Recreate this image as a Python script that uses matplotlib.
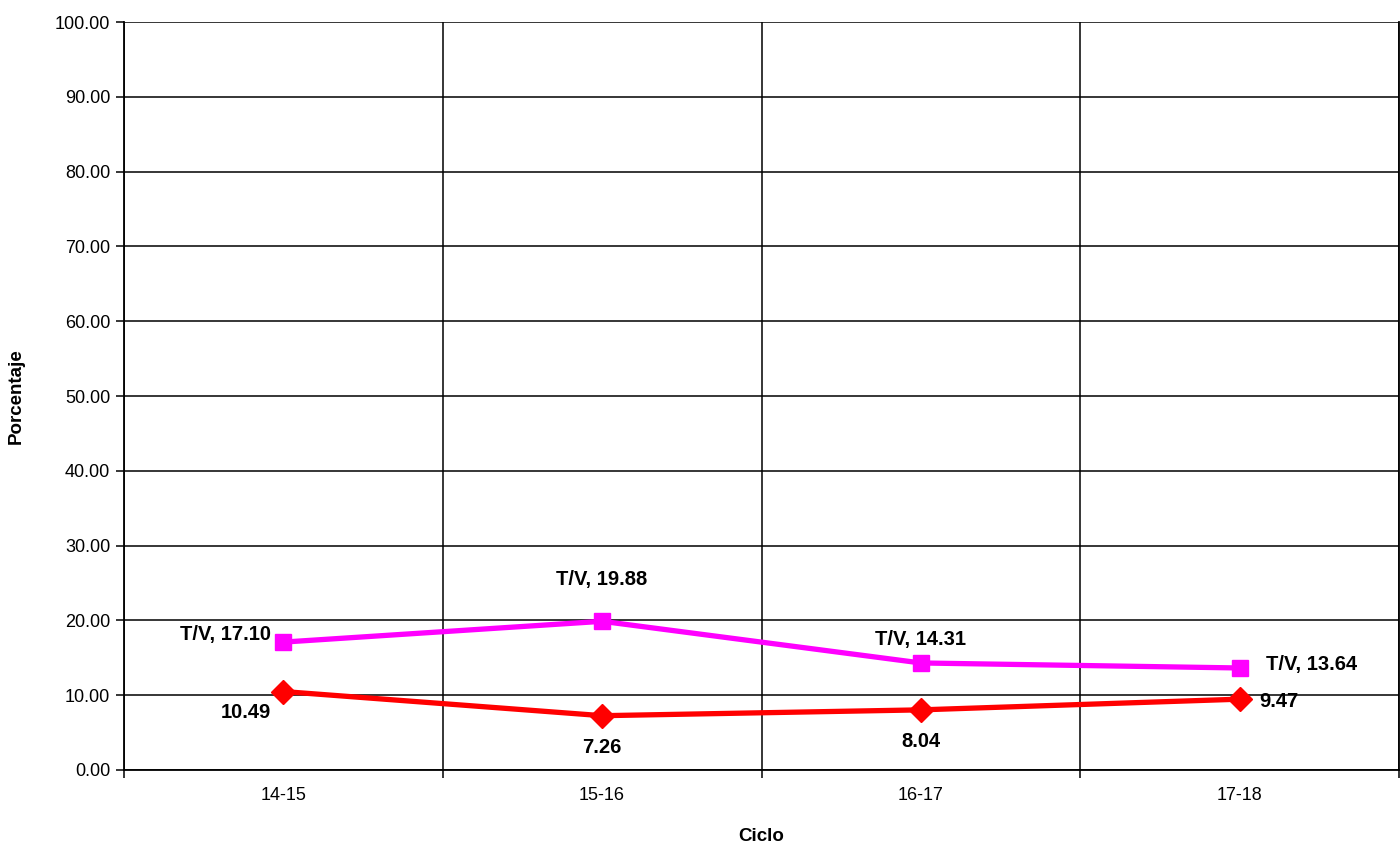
import matplotlib
matplotlib.use("Agg")
import matplotlib.pyplot as plt
from matplotlib.ticker import FixedLocator, FormatStrFormatter

categories = ["14-15", "15-16", "16-17", "17-18"]
tv_values = [17.10, 19.88, 14.31, 13.64]
red_values = [10.49, 7.26, 8.04, 9.47]
y_ticks = [0, 10, 20, 30, 40, 50, 60, 70, 80, 90, 100]

plt.rcParams['font.family'] = ['Liberation Sans', 'DejaVu Sans']

fig = plt.figure(figsize=(14, 8.48), dpi=100)
ax = fig.add_axes([124/1400, 1-770/848, (1399-124)/1400, (770-22)/848])

x = list(range(len(categories)))
ax.plot(x, tv_values, color='#FF00FF', lw=3.8, marker='s', markersize=12,
        zorder=3, solid_joinstyle='miter')
ax.plot(x, red_values, color='#FF0000', lw=3.8, marker='D', markersize=12,
        zorder=3, solid_joinstyle='miter')

ax.set_xlim(-0.5, len(categories) - 0.5)
ax.set_ylim(0, 100)
ax.set_yticks(y_ticks)
ax.yaxis.set_major_formatter(FormatStrFormatter('%.2f'))
ax.set_xticks(x)
ax.set_xticklabels(categories)
ax.xaxis.set_minor_locator(FixedLocator([i - 0.5 for i in range(len(categories) + 1)]))

ax.grid(axis='y', which='major', color='black', lw=1.1)
ax.grid(axis='x', which='minor', color='black', lw=1.1)
ax.tick_params(axis='x', which='major', length=0, pad=12, labelsize=13)
ax.tick_params(axis='x', which='minor', length=6, width=1.1, direction='out')
ax.tick_params(axis='y', length=6, width=1.1, labelsize=13, pad=4)

for s in ['left', 'bottom', 'right']:
    ax.spines[s].set_color('black')
    ax.spines[s].set_linewidth(1.3)
ax.spines['top'].set_visible(False)

ax.set_ylabel('Porcentaje', fontsize=13.5, fontweight='bold')
ax.set_xlabel('Ciclo', fontsize=13.5, fontweight='bold')
ax.yaxis.set_label_coords(-0.0775, 0.5)
ax.xaxis.set_label_coords(0.5, -0.078)

lab_kw = dict(fontsize=14.5, fontweight='bold', color='black', zorder=4)
# magenta labels
tv_offsets = [(-12, 8, 'right', 'center'), (0, 32, 'center', 'bottom'),
              (0, 14, 'center', 'bottom'), (26, 3, 'left', 'center')]
for xi, v, (dx, dy, ha, va) in zip(x, tv_values, tv_offsets):
    ax.annotate(f'T/V, {v:.2f}', (xi, v), xytext=(dx, dy), textcoords='offset pixels',
                ha=ha, va=va, **lab_kw)
red_offsets = [(-12, -21, 'right', 'center'), (0, -22, 'center', 'top'),
               (0, -22, 'center', 'top'), (20, -2, 'left', 'center')]
for xi, v, (dx, dy, ha, va) in zip(x, red_values, red_offsets):
    ax.annotate(f'{v:.2f}', (xi, v), xytext=(dx, dy), textcoords='offset pixels',
                ha=ha, va=va, **lab_kw)

fig.savefig('out.png', dpi=100)
